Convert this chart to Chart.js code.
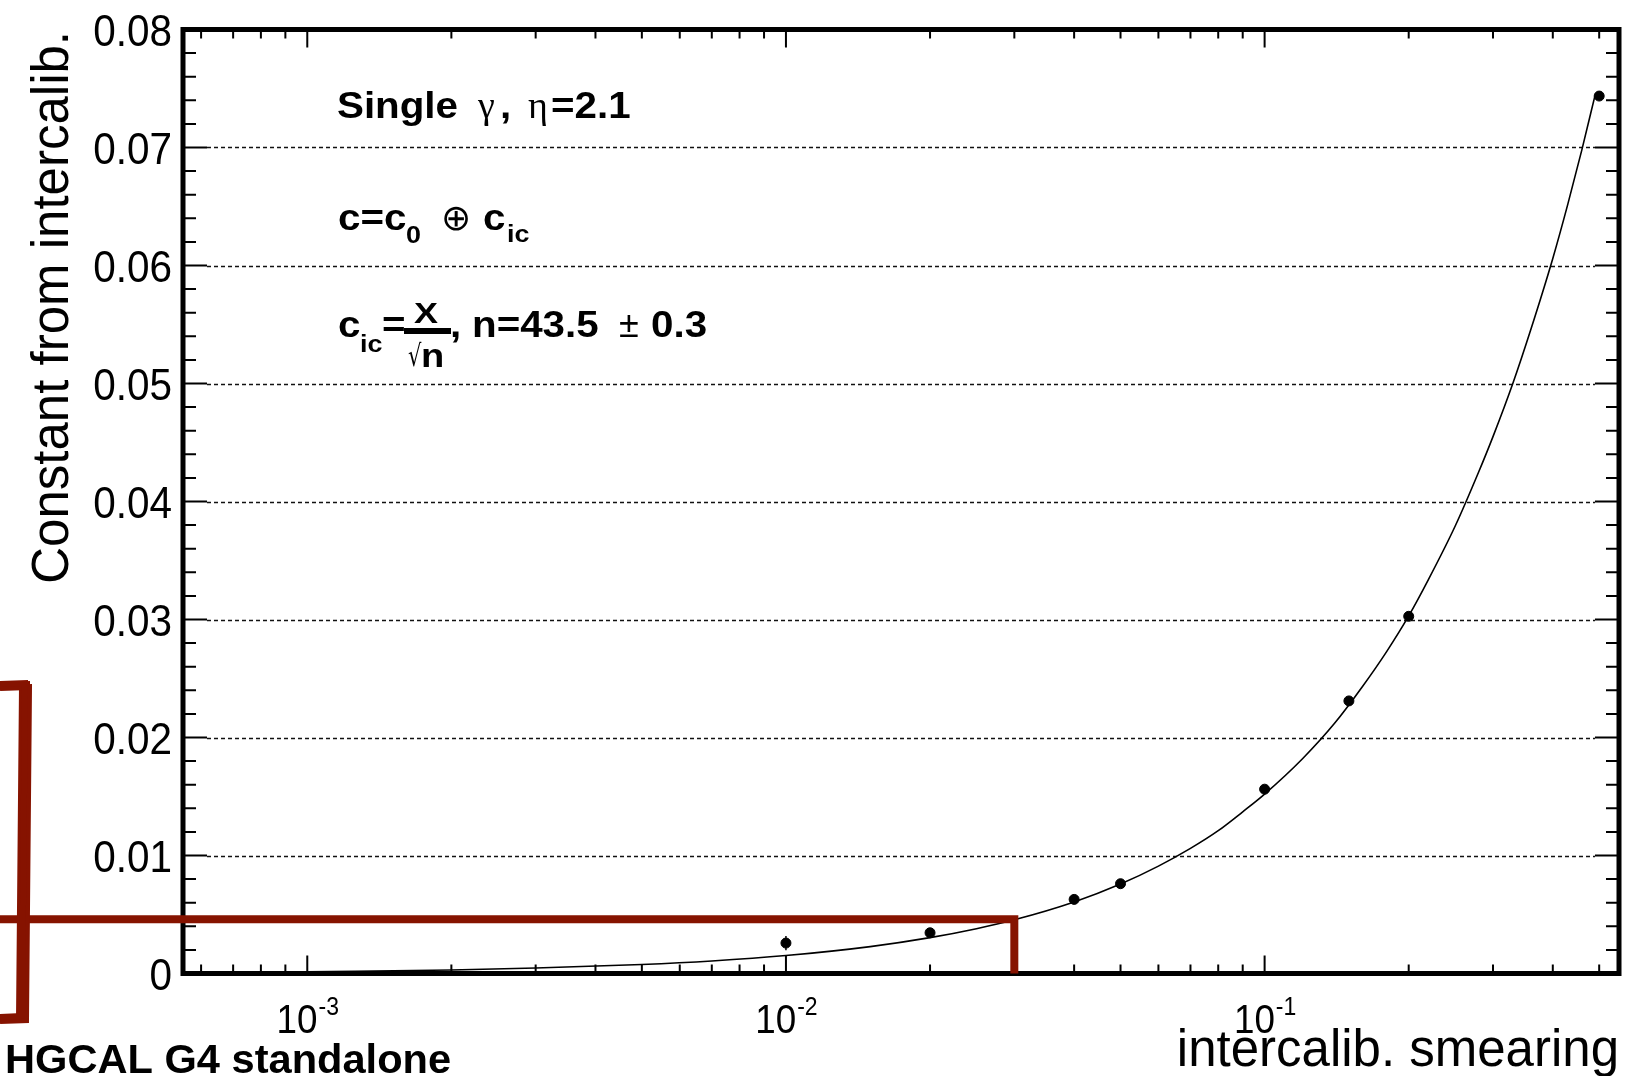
<!DOCTYPE html>
<html>
<head>
<meta charset="utf-8">
<script src="https://cdn.jsdelivr.net/npm/chart.js@4.4.1/dist/chart.umd.min.js"></script>
<style>
  html, body { margin: 0; padding: 0; background: #fff; }
  #chart { display: block; }
</style>
</head>
<body>
<canvas id="chart" width="1638" height="1076"></canvas>
<script>
// measured points (intercalib. smearing vs constant term)
const smearX = [0.01, 0.02, 0.04, 0.05, 0.1, 0.15, 0.2, 0.5];
const constY = [0.00258, 0.00345, 0.00628, 0.00761, 0.01562, 0.0231, 0.03027, 0.07436];
const constErr = [0.0006, 0.0003, 0.0002, 0.0002, 0.0002, 0.0002, 0.0002, 0.0003];

// fit curve
const fitX = [0.001, 0.002, 0.003, 0.005, 0.007, 0.01, 0.015, 0.02, 0.025, 0.03, 0.04, 0.05,
              0.06, 0.07, 0.08, 0.09, 0.1, 0.12, 0.14, 0.16, 0.18, 0.2, 0.22, 0.25, 0.28,
              0.3, 0.33, 0.36, 0.4, 0.43, 0.46, 0.49];
const fitY = [0.00015, 0.0003, 0.00046, 0.00076, 0.00106, 0.00152, 0.00228, 0.00304, 0.0038,
              0.00455, 0.00606, 0.00758, 0.0091, 0.0106, 0.0121, 0.0137, 0.0152, 0.0182,
              0.0212, 0.0243, 0.0273, 0.0303, 0.0334, 0.0379, 0.0425, 0.0455, 0.05, 0.0546,
              0.0606, 0.0652, 0.0698, 0.0744];

// y ticks
const yTicks = [0, 0.01, 0.02, 0.03, 0.04, 0.05, 0.06, 0.07, 0.08];
const yTickLabels = ["0", "0.01", "0.02", "0.03", "0.04", "0.05", "0.06", "0.07", "0.08"];
// x decades
const xDecades = [-3, -2, -1];
const xDecadeLabels = ["-3", "-2", "-1"];

// marked working point (red lines)
const markX = 0.03;
const markY = 0.0046;

const RED = "#861300";

function drawText(ctx, str, x, y, font, sx, align) {
    ctx.save();
    ctx.font = font;
    ctx.textAlign = align || "left";
    ctx.textBaseline = "alphabetic";
    ctx.translate(x, y);
    ctx.scale(sx, 1);
    ctx.fillText(str, 0, 0);
    ctx.restore();
}

const rootStyle = {
    id: "rootStyle",
    beforeDatasetsDraw(chart) {
        const ctx = chart.ctx, a = chart.chartArea, ys = chart.scales.y;
        // dashed horizontal grid
        ctx.save();
        ctx.strokeStyle = "#111";
        ctx.lineWidth = 1.6;
        ctx.setLineDash([4, 3]);
        yTicks.forEach(v => {
            if (v <= 0 || v >= 0.08) return;
            const py = Math.round(ys.getPixelForValue(v)) + 0.5;
            ctx.beginPath();
            ctx.moveTo(a.left + 24, py);
            ctx.lineTo(a.right - 24, py);
            ctx.stroke();
        });
        ctx.restore();
    },
    afterDatasetsDraw(chart) {
        const ctx = chart.ctx, a = chart.chartArea;
        const xs = chart.scales.x, ys = chart.scales.y;

        // error bars
        ctx.save();
        ctx.strokeStyle = "#000";
        ctx.lineWidth = 1.5;
        smearX.forEach((x, i) => {
            const px = xs.getPixelForValue(x);
            ctx.beginPath();
            ctx.moveTo(px, ys.getPixelForValue(constY[i] - constErr[i]));
            ctx.lineTo(px, ys.getPixelForValue(constY[i] + constErr[i]));
            ctx.stroke();
        });

        // tick marks, inside the frame on all sides
        ctx.lineWidth = 2;
        for (let k = 0; k <= 40; k++) {
            const py = ys.getPixelForValue(k * 0.002);
            const len = (k % 5 === 0) ? 24 : 13;
            ctx.beginPath();
            ctx.moveTo(a.left, py); ctx.lineTo(a.left + len, py);
            ctx.moveTo(a.right, py); ctx.lineTo(a.right - len, py);
            ctx.stroke();
        }
        for (let d = -4; d <= -1; d++) {
            for (let m = 1; m <= 9; m++) {
                const v = m * Math.pow(10, d);
                if (v < xs.min || v > xs.max) continue;
                const px = xs.getPixelForValue(v);
                const len = (m === 1) ? 18 : 9;
                ctx.beginPath();
                ctx.moveTo(px, a.bottom); ctx.lineTo(px, a.bottom - len);
                ctx.moveTo(px, a.top); ctx.lineTo(px, a.top + len);
                ctx.stroke();
            }
        }

        // frame
        ctx.lineWidth = 5;
        ctx.strokeRect(a.left, a.top, a.right - a.left, a.bottom - a.top);
        ctx.restore();

        ctx.fillStyle = "#000";
        // y tick labels
        yTicks.forEach((v, i) => {
            drawText(ctx, yTickLabels[i], 172, ys.getPixelForValue(v) + 16,
                "44px 'Liberation Sans'", 0.92, "right");
        });
        // x tick labels 10^n
        xDecades.forEach((d, i) => {
            const px = xs.getPixelForValue(Math.pow(10, d));
            ctx.save();
            ctx.font = "40px 'Liberation Sans'";
            const w1 = ctx.measureText("10").width * 0.92;
            ctx.font = "25px 'Liberation Sans'";
            const w2 = ctx.measureText(xDecadeLabels[i]).width * 0.92;
            ctx.restore();
            const x0 = px - (w1 + w2) / 2;
            drawText(ctx, "10", x0, 1033, "40px 'Liberation Sans'", 0.92);
            drawText(ctx, xDecadeLabels[i], x0 + w1 + 1, 1015, "25px 'Liberation Sans'", 0.92);
        });

        // axis titles
        drawText(ctx, "intercalib. smearing", 1619, 1066, "51px 'Liberation Sans'", 1.0, "right");
        ctx.save();
        ctx.translate(68, 31);
        ctx.rotate(-Math.PI / 2);
        drawText(ctx, "Constant from intercalib.", 0, 0, "51px 'Liberation Sans'", 1.0, "right");
        ctx.restore();

        drawText(ctx, "HGCAL G4 standalone", 5, 1073, "bold 40px 'Liberation Sans'", 1.04);

        // fit annotations
        const B = "bold 36px 'Liberation Sans'", S = "bold 24px 'Liberation Sans'";
        const G = "38px 'Liberation Serif'", sx = 1.12;
        drawText(ctx, "Single", 337, 118, B, sx);
        drawText(ctx, "\u03b3", 478, 118, G, 1);
        drawText(ctx, ",", 500, 118, B, sx);
        drawText(ctx, "\u03b7", 528, 118, G, 1);
        drawText(ctx, "=2.1", 551, 118, B, sx);

        drawText(ctx, "c=c", 338, 230, B, sx);
        drawText(ctx, "0", 406, 243, S, sx);
        drawText(ctx, "\u2295", 441, 230, "36px 'DejaVu Sans'", 1);
        drawText(ctx, "c", 483, 230, B, sx);
        drawText(ctx, "ic", 507, 242, S, sx);

        drawText(ctx, "c", 338, 337, B, sx);
        drawText(ctx, "ic", 360, 352, S, sx);
        drawText(ctx, "=", 382, 337, B, sx);
        ctx.fillRect(404, 328, 47, 6);
        drawText(ctx, "X", 414, 323, "bold 30px 'Liberation Sans'", 1.2);
        drawText(ctx, "\u221a", 408, 366, "30px 'DejaVu Sans'", 0.7);
        drawText(ctx, "n", 421, 367, "bold 34px 'Liberation Sans'", sx);
        drawText(ctx, ",", 450, 337, B, sx);
        drawText(ctx, "n=43.5", 472, 337, B, sx);
        drawText(ctx, "\u00b1", 619, 337, "36px 'Liberation Sans'", 1);
        drawText(ctx, "0.3", 651, 337, B, sx);

        // red marker lines for the working point
        const mx = xs.getPixelForValue(markX), my = ys.getPixelForValue(markY);
        ctx.save();
        ctx.strokeStyle = RED;
        ctx.lineWidth = 8;
        ctx.lineCap = "butt";
        ctx.beginPath();
        ctx.moveTo(0, my);
        ctx.lineTo(mx + 4, my);
        ctx.moveTo(mx, my - 4);
        ctx.lineTo(mx, a.bottom);
        ctx.stroke();

        // hand drawn bracket on the left
        ctx.lineWidth = 6;
        const strokes = [[0, 0], [3, -1], [-2, 1], [5, 2], [1, -2]];
        strokes.forEach(o => {
            ctx.beginPath();
            ctx.moveTo(0, 686 + o[1]);
            ctx.lineTo(24 + o[0], 685 + o[1]);
            ctx.lineTo(21 + o[0], 1018 + o[1]);
            ctx.lineTo(0, 1019 + o[1]);
            ctx.stroke();
        });
        ctx.restore();
    }
};

const ctx = document.getElementById("chart").getContext("2d");
new Chart(ctx, {
    type: "scatter",
    data: {
        datasets: [{
            label: "points",
            data: smearX.map((x, i) => ({ x: x, y: constY[i] })),
            pointRadius: 5,
            pointBackgroundColor: "#000",
            pointBorderColor: "#000",
            showLine: false
        }, {
            label: "fit",
            data: fitX.map((x, i) => ({ x: x, y: fitY[i] })),
            showLine: true,
            borderColor: "#000",
            borderWidth: 1.6,
            pointRadius: 0,
            cubicInterpolationMode: "monotone"
        }]
    },
    options: {
        responsive: false,
        animation: false,
        devicePixelRatio: 1,
        layout: { padding: { left: 183, right: 19, top: 29.5, bottom: 102.5 } },
        plugins: { legend: { display: false }, tooltip: { enabled: false } },
        scales: {
            x: { type: "logarithmic", min: 0.00055, max: 0.55, display: false },
            y: { type: "linear", min: 0, max: 0.08, display: false }
        }
    },
    plugins: [rootStyle]
});
</script>
</body>
</html>
